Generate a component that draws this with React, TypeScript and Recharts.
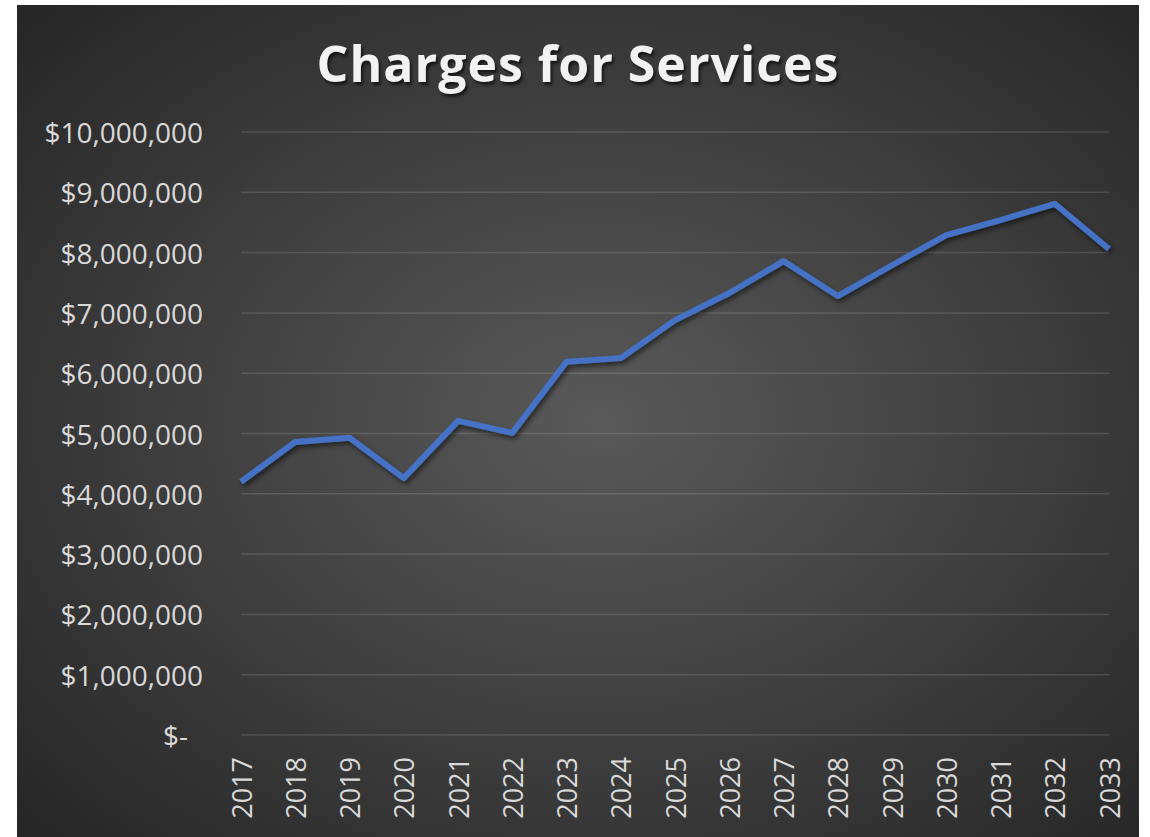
import React from "react";
import { LineChart, Line, XAxis, YAxis, CartesianGrid } from "recharts";

const years = [
  "2017", "2018", "2019", "2020", "2021", "2022", "2023", "2024", "2025",
  "2026", "2027", "2028", "2029", "2030", "2031", "2032", "2033",
];

const charges = [
  4200000, 4860000, 4930000, 4260000, 5210000, 5010000, 6190000, 6250000,
  6880000, 7330000, 7860000, 7280000, 7790000, 8290000, 8540000, 8810000,
  8060000,
];

const yTicks = [
  0, 1000000, 2000000, 3000000, 4000000, 5000000, 6000000, 7000000, 8000000,
  9000000, 10000000,
];

const data = years.map((year, i) => ({ year, charges: charges[i] }));

const FONT = "'Open Sans', 'Noto Sans', sans-serif";
const LABEL = "#d9d9d9";

const formatMoney = (value: number) =>
  value === 0 ? "$-" : "$" + value.toLocaleString("en-US");

const YTick = ({ x, y, payload }: any) => (
  <text
    x={payload.value === 0 ? x - 15 : x}
    y={y}
    textAnchor="end"
    dominantBaseline="central"
    fill={LABEL}
    fontSize={28}
    fontFamily={FONT}
  >
    {formatMoney(payload.value)}
  </text>
);

const XTick = ({ x, y, payload }: any) => (
  <text
    x={x}
    y={y}
    transform={`rotate(-90 ${x} ${y})`}
    textAnchor="end"
    dominantBaseline="central"
    fill={LABEL}
    fontSize={27}
    fontFamily={FONT}
  >
    {payload.value}
  </text>
);

export default function App() {
  return (
    <div
      style={{
        position: "absolute",
        left: 17,
        top: 5,
        width: 1122,
        height: 832,
        background:
          "radial-gradient(ellipse 70% 70% at 52% 50%, #595959 0%, #3e3e3e 55%, #272727 100%)",
        overflow: "hidden",
      }}
    >
      <div
        style={{
          position: "absolute",
          left: 0,
          top: 28,
          width: 1122,
          textAlign: "center",
          color: "#f2f2f2",
          fontFamily: FONT,
          fontWeight: 700,
          fontSize: 50,
          letterSpacing: 1,
          lineHeight: "60px",
          textShadow: "2px 3px 3px rgba(0,0,0,0.6)",
        }}
      >
        Charges for Services
      </div>
      <LineChart
        width={1122}
        height={832}
        data={data}
        margin={{ top: 127, right: 30, bottom: 0, left: 0 }}
        style={{ position: "absolute", left: 0, top: 0 }}
      >
        <defs>
          <filter id="lineShadow" x="-5%" y="-5%" width="110%" height="120%">
            <feDropShadow dx="2" dy="3" stdDeviation="2.5" floodColor="#000" floodOpacity="0.55" />
          </filter>
        </defs>
        <CartesianGrid
          vertical={false}
          stroke="rgba(255,255,255,0.13)"
          strokeWidth={1.5}
        />
        <XAxis
          dataKey="year"
          axisLine={false}
          tickLine={false}
          tickSize={0}
          tickMargin={22}
          height={102}
          interval={0}
          tick={<XTick />}
        />
        <YAxis
          domain={[0, 10000000]}
          ticks={yTicks}
          axisLine={false}
          tickLine={false}
          tickSize={0}
          tickMargin={38}
          width={224}
          interval={0}
          tick={<YTick />}
        />
        <Line
          type="linear"
          dataKey="charges"
          stroke="#4472c4"
          strokeWidth={6}
          strokeLinejoin="round"
          dot={false}
          activeDot={false}
          filter="url(#lineShadow)"
          isAnimationActive={false}
        />
      </LineChart>
    </div>
  );
}
